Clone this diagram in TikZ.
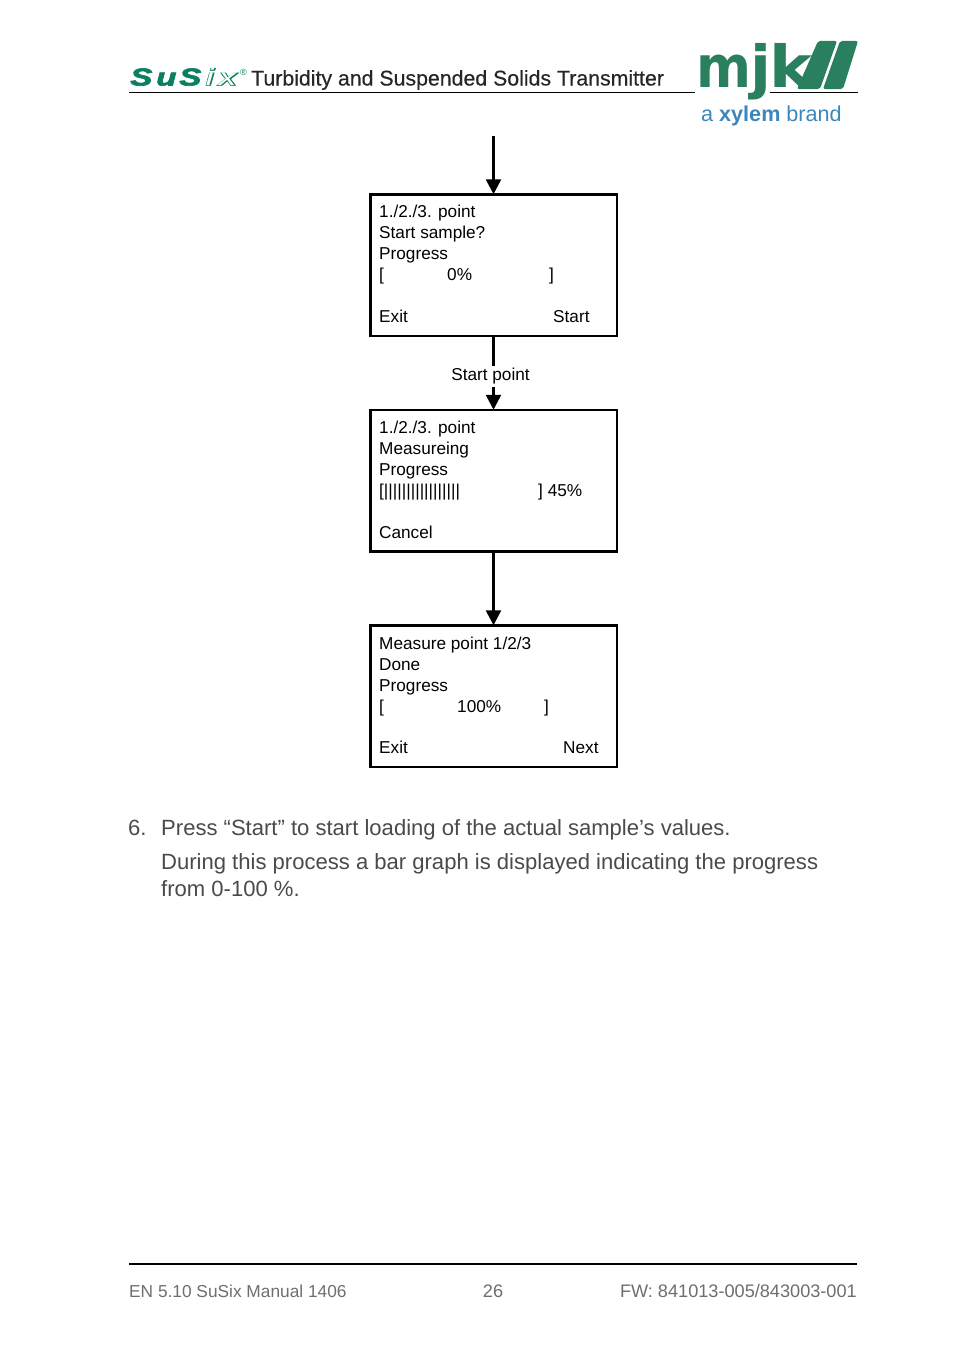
\documentclass[tikz,border=0pt]{standalone}
\usepackage{fontspec}
\setmainfont{Liberation Sans}
\newfontfamily\heavyfont{DejaVu Sans Bold}
\newfontfamily\susfont{Liberation Sans Bold Italic}[FakeBold=2.5]
\newfontfamily\ixouter{Liberation Sans Bold Italic}[FakeBold=1.5]
\newfontfamily\ixinner{Liberation Sans Italic}
\newfontfamily\titlefont{Liberation Sans}[FakeBold=0.35]
\usetikzlibrary{arrows.meta}
\definecolor{mjkgreen}{HTML}{2A7F5F}
\definecolor{susixgreen}{HTML}{0B8060}
\definecolor{xylemblue}{HTML}{3C86BC}
\definecolor{bodygray}{HTML}{4A4A4A}
\definecolor{footgray}{HTML}{6E6E6E}
\tikzset{
    screen/.style={draw, line width=2.5pt, minimum width=246.5pt, minimum height=141.5pt, inner sep=0pt, outer sep=0pt},
    flow/.style={line width=2.6pt, -{Triangle[length=15pt,width=15pt]}},
    lcd/.style={anchor=base west, inner sep=0pt, font=\fontsize{17.2}{20}\selectfont},
    bodytext/.style={anchor=base west, inner sep=0pt, text=bodygray, font=\fontsize{22.05}{26}\selectfont},
    foot/.style={inner sep=0pt, text=footgray, font=\fontsize{18.15}{22}\selectfont},
    susletter/.style={anchor=base west, inner sep=0pt, text=susixgreen, xscale=1.35, font=\susfont\fontsize{24.5}{25}\selectfont},
    ixletter/.style={anchor=base west, inner sep=0pt, xscale=1.45, font=\fontsize{24}{25}\selectfont},
    mjkletter/.style={anchor=base west, inner sep=0pt, text=mjkgreen, font=\heavyfont\fontsize{58}{58}\selectfont}
}
\begin{document}
\begin{tikzpicture}[x=1pt, y=-1pt]
    \useasboundingbox (0,0) rectangle (954,1354);

    % Kopfzeile
    \draw[line width=1pt] (129,92.5) -- (695,92.5);
    \draw[line width=1pt] (770,92.5) -- (858,92.5);
    \node (sus1) [susletter] at (130,85.5) {S};
    \node (sus2) [susletter] at (156,85.5) {u};
    \node (sus3) [susletter] at (179,85.5) {S};
    \node (ix1) [ixletter, text=susixgreen] at (205,85.5) {\ixouter i};
    \node (ix2) [ixletter, text=white] at (205.5,85.5) {\ixinner i};
    \node (ix3) [ixletter, text=susixgreen] at (218,85.5) {\ixouter x};
    \node (ix4) [ixletter, text=white] at (218.5,85.5) {\ixinner x};
    \node (reg) [anchor=base west, inner sep=0pt, text=susixgreen, font=\fontsize{9}{9}\selectfont] at (240,75) {®};
    \node (title) [anchor=base west, inner sep=0pt, text=black!85, font=\titlefont\fontsize{21.3}{24}\selectfont] at (251,85.5) {Turbidity and Suspended Solids Transmitter};

    % Logo
    \node (mjk1) [mjkletter, xscale=0.91] at (696,87) {m};
    \node (mjk2) [mjkletter, xscale=1.05] at (750,87) {j};
    \node (mjk3) [mjkletter, xscale=1.12] at (769,87) {k};
    \fill[mjkgreen, rounded corners=2pt] (818,41) -- (837,41) -- (820,89) -- (797,89) -- cycle;
    \fill[mjkgreen, rounded corners=2pt] (840,41) -- (858,41) -- (843,89) -- (823,89) -- cycle;
    \node (brand) [anchor=base west, inner sep=0pt, text=xylemblue, font=\fontsize{21.6}{24}\selectfont] at (701,121) {a \textbf{xylem} brand};

    % Ablauf
    \coordinate (entry) at (493.5,136);
    \node (start) [screen] at (493.5,265) {};
    \node (measure) [screen] at (493.5,480.5) {};
    \node (done) [screen] at (493.5,696) {};
    \draw[flow] (entry) -- (start.north);
    \draw[flow] (start.south) -- (measure.north);
    \draw[flow] (measure.south) -- (done.north);
    \node (startpoint) [fill=white, inner ysep=2pt, inner xsep=0pt, font=\fontsize{17.2}{20}\selectfont] at (490.5,376.5) {Start point};

    % Startbild
    \node (a1) [lcd] at (379,217) {1./2./3. point};
    \node (a2) [lcd] at (379,238) {Start sample?};
    \node (a3) [lcd] at (379,259) {Progress};
    \node (a4) [lcd] at (379,280) {[};
    \node (a5) [lcd] at (447,280) {0\%};
    \node (a6) [lcd] at (549,280) {]};
    \node (a7) [lcd] at (379,322) {Exit};
    \node (a8) [lcd] at (553,322) {Start};

    % Messbild
    \node (b1) [lcd] at (379,433) {1./2./3. point};
    \node (b2) [lcd] at (379,454) {Measureing};
    \node (b3) [lcd] at (379,475) {Progress};
    \node (b4) [lcd] at (379,496) {[|||||||||||||||||};
    \node (b5) [lcd] at (538,496) {] 45\%};
    \node (b6) [lcd] at (379,538) {Cancel};

    % Fertigbild
    \node (c1) [lcd] at (379,649) {Measure point 1/2/3};
    \node (c2) [lcd] at (379,670) {Done};
    \node (c3) [lcd] at (379,691) {Progress};
    \node (c4) [lcd] at (379,712) {[};
    \node (c5) [lcd] at (457,712) {100\%};
    \node (c6) [lcd] at (544,712) {]};
    \node (c7) [lcd] at (379,753) {Exit};
    \node (c8) [lcd] at (563,753) {Next};

    % Text
    \node (num) [bodytext] at (128,835) {6.};
    \node (t1) [bodytext] at (161,835) {Press “Start” to start loading of the actual sample’s values.};
    \node (t2) [bodytext] at (161,869) {During this process a bar graph is displayed indicating the progress};
    \node (t3) [bodytext] at (161,896) {from 0-100 \%.};

    % Fusszeile
    \draw[line width=1.5pt] (129,1264) -- (857,1264);
    \node (f1) [foot, anchor=base west, font=\fontsize{17.3}{22}\selectfont] at (129,1297) {EN 5.10 SuSix Manual 1406};
    \node (f2) [foot, anchor=base] at (493,1297) {26};
    \node (f3) [foot, anchor=base east] at (857,1297) {FW: 841013-005/843003-001};
\end{tikzpicture}
\end{document}
